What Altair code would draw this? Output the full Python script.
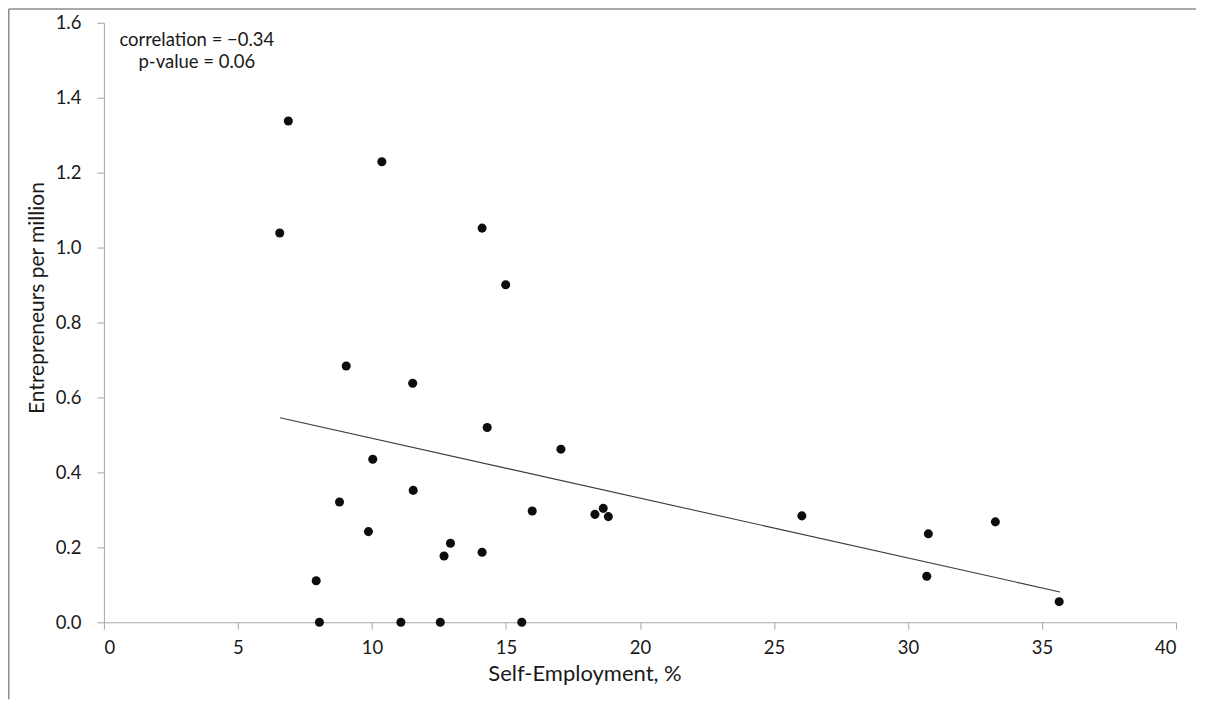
import altair as alt
import pandas as pd

# Scatter data (Self-Employment %, Entrepreneurs per million)
self_employment = [6.88, 10.37, 6.56, 14.11, 14.99, 9.04, 11.52, 14.30, 10.03, 11.54,
                   8.79, 15.98, 9.87, 12.93, 12.69, 14.11, 7.92, 8.04, 11.08, 12.55,
                   15.59, 17.05, 18.32, 18.63, 18.82, 26.04, 30.70, 30.76, 33.26, 35.64]
entrepreneurs = [1.338, 1.229, 1.039, 1.052, 0.901, 0.684, 0.638, 0.520, 0.435, 0.352,
                 0.321, 0.297, 0.242, 0.211, 0.177, 0.187, 0.111, 0.0, 0.0, 0.0,
                 0.0, 0.462, 0.288, 0.304, 0.282, 0.284, 0.123, 0.236, 0.268, 0.055]

# Linear trend line end points
trend_x = [6.57, 35.67]
trend_y = [0.546, 0.081]

x_ticks = [0, 5, 10, 15, 20, 25, 30, 35, 40]
y_ticks = [0.0, 0.2, 0.4, 0.6, 0.8, 1.0, 1.2, 1.4, 1.6]

annotation = ["correlation = \u22120.34", "p-value = 0.06"]

FONT = "Lato"
TEXT_COLOR = "#1a1a1a"
AXIS_COLOR = "#a6a6a6"
BORDER_COLOR = "#8c8c8c"

df = pd.DataFrame({"x": self_employment, "y": entrepreneurs})
trend = pd.DataFrame({"x": trend_x, "y": trend_y})
ann = pd.DataFrame({"text": [annotation]})
one = pd.DataFrame({"a": [0]})

x_scale = alt.Scale(domain=[0, 40], nice=False, zero=True)
y_scale = alt.Scale(domain=[0, 1.6], nice=False, zero=True)

x_axis = alt.Axis(
    title="Self-Employment, %", values=x_ticks, format="d", grid=False,
    domainColor=AXIS_COLOR, tickColor=AXIS_COLOR, tickSize=7,
    labelFont=FONT, labelFontSize=18.5, labelColor=TEXT_COLOR, labelPadding=9,
    titleFont=FONT, titleFontSize=22, titleFontWeight="normal", titleColor=TEXT_COLOR,
    titleX=481, titleY=58, titleBaseline="alphabetic", titleAlign="center",
)
y_axis = alt.Axis(
    title="Entrepreneurs per million", values=y_ticks, format=".1f", grid=False,
    domainColor=AXIS_COLOR, tickColor=AXIS_COLOR, tickSize=7,
    labelFont=FONT, labelFontSize=18.5, labelColor=TEXT_COLOR, labelPadding=16,
    titleFont=FONT, titleFontSize=21, titleFontWeight="normal", titleColor=TEXT_COLOR,
    titleX=-66, titleY=275, titleAngle=270, titleBaseline="middle", titleAlign="center",
)

# chart-area frame: top and left edges only (the rest lies outside the crop)
frame_top = alt.Chart(one).mark_rule(
    stroke=BORDER_COLOR, strokeWidth=1.5, clip=False, orient="horizontal"
).encode(
    x=alt.value(-95.25), x2=alt.value(1093), y=alt.value(-13.75)
)
frame_left = alt.Chart(one).mark_rule(
    stroke=BORDER_COLOR, strokeWidth=1.5, clip=False, orient="vertical"
).encode(
    x=alt.value(-95.25), y=alt.value(-13.75), y2=alt.value(677)
)

points = alt.Chart(df).mark_circle(size=82, color="#0d0d0d", opacity=1).encode(
    x=alt.X("x:Q", scale=x_scale, axis=x_axis),
    y=alt.Y("y:Q", scale=y_scale, axis=y_axis),
)

line = alt.Chart(trend).mark_line(color="#3a3a3a", strokeWidth=1.1).encode(
    x=alt.X("x:Q", scale=x_scale),
    y=alt.Y("y:Q", scale=y_scale),
)

text = alt.Chart(ann).mark_text(
    font=FONT, fontSize=18.5, color=TEXT_COLOR, align="center", baseline="alphabetic",
    lineHeight=22,
).encode(
    x=alt.value(93), y=alt.value(23.5), text="text"
)

chart = alt.layer(frame_top, frame_left, line, points, text).properties(
    width=1073, height=600,
    padding={"left": 96, "top": 14.5, "right": 22, "bottom": 78},
    autosize=alt.AutoSizeParams(type="none"),
).configure_view(stroke=None)

chart.save("out.html", embed_options={"renderer": "svg", "actions": False})
